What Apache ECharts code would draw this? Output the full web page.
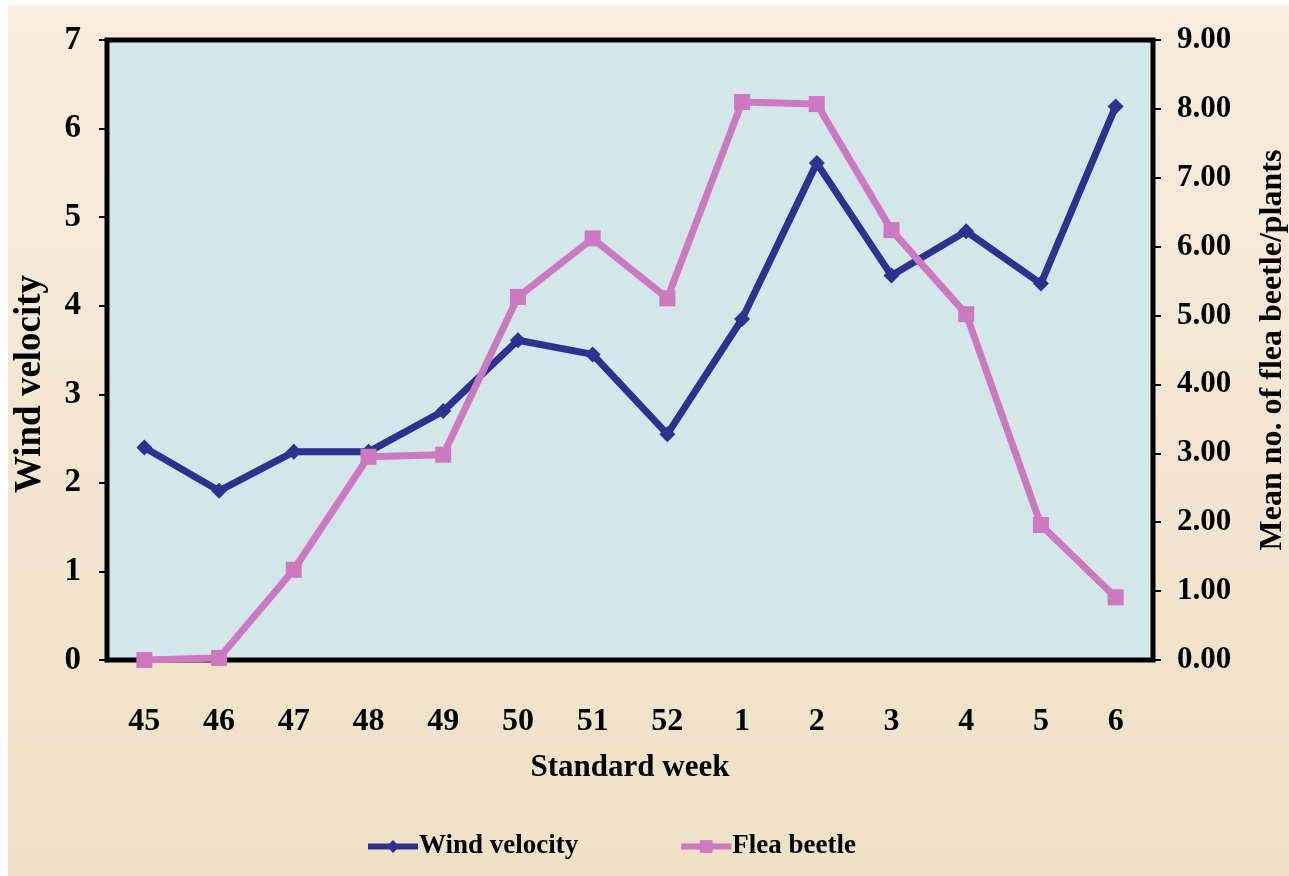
<!DOCTYPE html>
<html>
<head>
<meta charset="utf-8">
<script src="https://cdn.jsdelivr.net/npm/echarts@6/dist/echarts.min.js"></script>
<style>
  body { margin: 0; background: #ffffff; }
  #chart { position: absolute; left: 8px; top: 6px; width: 1281px; height: 870px; }
</style>
</head>
<body>
<div id="chart"></div>
<script>
// standard weeks
var weeks = ['45', '46', '47', '48', '49', '50', '51', '52', '1', '2', '3', '4', '5', '6'];
// wind velocity (left axis)
var windVelocity = [2.40, 1.91, 2.35, 2.35, 2.81, 3.61, 3.45, 2.55, 3.85, 5.61, 4.34, 4.84, 4.25, 6.25];
// mean no. of flea beetle / plants (right axis)
var fleaBeetle = [0.00, 0.03, 1.31, 2.95, 2.98, 5.27, 6.12, 5.25, 8.10, 8.07, 6.24, 5.02, 1.96, 0.91];

var font = 'Liberation Serif';
var dom = document.getElementById('chart');
var myChart = echarts.init(dom);

var option = {
    backgroundColor: {
        type: 'linear', x: 0, y: 0, x2: 0, y2: 1,
        colorStops: [{ offset: 0, color: '#f7ecdf' }, { offset: 1, color: '#eee1c6' }]
    },
    textStyle: { fontFamily: font, color: '#000' },
    legend: {
        left: 352,
        top: 822,
        itemWidth: 50,
        itemHeight: 16,
        itemGap: 100,
        lineStyle: { width: 6 },
        textStyle: { fontFamily: font, fontSize: 27, fontWeight: 'bold', color: '#000', padding: [0, 0, 0, -4] },
        data: ['Wind velocity', 'Flea beetle']
    },
    grid: {
        left: 99,
        right: 136,
        top: 34,
        bottom: 216,
        containLabel: false,
        outerBoundsMode: 'none',
        show: true,
        backgroundColor: '#d3e6ea',
        borderColor: '#000',
        borderWidth: 5
    },
    xAxis: {
        type: 'category',
        data: weeks,
        boundaryGap: true,
        name: 'Standard week',
        nameLocation: 'middle',
        nameGap: 92,
        nameTextStyle: { fontFamily: font, fontSize: 31, fontWeight: 'bold', color: '#000' },
        axisLine: { lineStyle: { color: '#000', width: 2 } },
        axisTick: { length: 12, lineStyle: { color: '#000', width: 2 } },
        axisLabel: { fontFamily: font, fontSize: 32, fontWeight: 'bold', color: '#000', margin: 46 }
    },
    yAxis: [{
        type: 'value',
        min: 0,
        max: 7,
        interval: 1,
        name: 'Wind velocity',
        nameLocation: 'middle',
        nameRotate: 90,
        nameGap: 58,
        nameTextStyle: { fontFamily: font, fontSize: 37, fontWeight: 'bold', color: '#000', padding: [0, 68, 0, 0] },
        splitLine: { show: false },
        axisLine: { show: true, lineStyle: { color: '#000', width: 2 } },
        axisTick: { show: true, length: 8, lineStyle: { color: '#000', width: 2 } },
        axisLabel: { fontFamily: font, fontSize: 33, fontWeight: 'bold', color: '#000', margin: 26 }
    }, {
        type: 'value',
        min: 0,
        max: 9,
        interval: 1,
        position: 'right',
        name: 'Mean no. of flea beetle/plants',
        nameLocation: 'middle',
        nameRotate: 90,
        nameGap: 104,
        nameTextStyle: { fontFamily: font, fontSize: 32, fontWeight: 'bold', color: '#000' },
        splitLine: { show: false },
        axisLine: { show: true, lineStyle: { color: '#000', width: 2 } },
        axisTick: { show: true, length: 8, lineStyle: { color: '#000', width: 2 } },
        axisLabel: {
            fontFamily: font, fontSize: 31, fontWeight: 'bold', color: '#000', margin: 24,
            formatter: function (v) { return v.toFixed(2); }
        }
    }],
    series: [{
        name: 'Wind velocity',
        type: 'line',
        yAxisIndex: 0,
        data: windVelocity,
        symbol: 'diamond',
        symbolSize: 16,
        lineStyle: { color: '#2e3190', width: 7 },
        itemStyle: { color: '#2e3190' }
    }, {
        name: 'Flea beetle',
        type: 'line',
        yAxisIndex: 1,
        data: fleaBeetle,
        symbol: 'rect',
        symbolSize: 16,
        lineStyle: { color: '#cc79c0', width: 7 },
        itemStyle: { color: '#cc79c0' }
    }]
};

myChart.setOption(option);
</script>
</body>
</html>
